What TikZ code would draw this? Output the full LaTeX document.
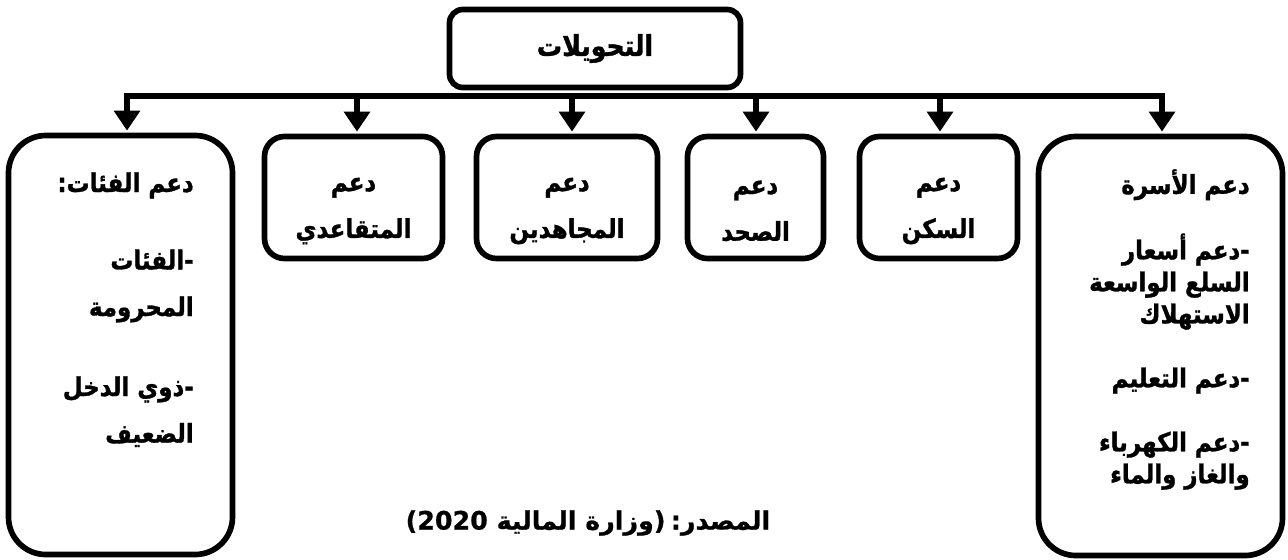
\documentclass[tikz,border=0pt]{standalone}
\usepackage{fontspec}
\newfontfamily\arabicfont[Script=Arabic, FakeStretch=0.88, BoldFeatures={FakeBold=1.2}]{DejaVu Sans}
\newfontfamily\arabicsrc[Script=Arabic, BoldFeatures={FakeBold=0.8}]{DejaVu Sans}
\newfontfamily\latsrc[BoldFeatures={FakeBold=0.8}]{DejaVu Sans}
\TeXXeTstate=1
\usetikzlibrary{arrows.meta}
\newcommand{\myrl}[1]{\beginR#1\endR}
\begin{document}
\begin{tikzpicture}[x=0.75pt,y=-0.75pt,
  box/.style={draw=black, line width=4.25pt, inner sep=0pt},
  sbox/.style={box, rounded corners=15pt},
  lbox/.style={box, rounded corners=28pt},
  txt/.style={inner sep=0pt, font=\arabicfont\bfseries\fontsize{19.5}{35}\selectfont},
  rtxt/.style={inner sep=0pt, font=\arabicfont\bfseries\fontsize{19.5}{24}\selectfont},
  conn/.style={line width=4.25pt, -{Triangle[length=15pt,width=19pt]}, shorten >=1.5pt},
  bar/.style={line width=4.25pt, line join=miter, {Triangle[length=15pt,width=19pt]}-{Triangle[length=15pt,width=19pt]}, shorten >=1.5pt, shorten <=1.5pt},
]
\useasboundingbox[fill=white] (0,0) rectangle (1288,560);

% boxes
\node[box, rounded corners=10pt, minimum width=218.25pt, minimum height=58.5pt, font=\arabicfont\bfseries\fontsize{21.5}{24}\selectfont] (T) at (595,48.5) {\myrl{التحويلات}};
\node[lbox, minimum width=168pt, minimum height=314.25pt] (L) at (120.5,345) {};
\node[sbox, minimum width=133.5pt, minimum height=91.5pt] (B2) at (353.5,197.5) {};
\node[sbox, minimum width=135.75pt, minimum height=91.5pt] (B3) at (567,197.5) {};
\node[sbox, minimum width=102pt, minimum height=91.5pt] (B4) at (755.5,197.5) {};
\node[sbox, minimum width=118.5pt, minimum height=91.5pt] (B5) at (938.5,197.5) {};
\node[lbox, minimum width=183pt, minimum height=314.25pt] (R) at (1160.5,346) {};

% texts
\node[txt, align=center] (t2) at (353.5,211) {\myrl{دعم}\\\myrl{المتقاعدي}};
\node[txt, align=center] (t3) at (567,211) {\myrl{دعم}\\\myrl{المجاهدين}};
\node[txt, align=center] (t4) at (755.5,211) {\myrl{دعم}\\\myrl{الصحد}};
\node[txt, align=center] (t5) at (938.5,211) {\myrl{دعم}\\\myrl{السكن}};
\node[txt, align=right, anchor=north east] (tL) at (194,172) {\myrl{دعم الفئات:}\\[23pt]\myrl{-الفئات}\\\myrl{المحرومة}\\[25pt]\myrl{-ذوي الدخل}\\\myrl{الضعيف}};
\node[rtxt, align=right, anchor=north east] (tR) at (1250,169) {\myrl{دعم الأسرة}\\[24pt]\myrl{-دعم أسعار}\\\myrl{السلع الواسعة}\\\myrl{الاستهلاك}\\[24pt]\myrl{-دعم التعليم}\\[24pt]\myrl{-دعم الكهرباء}\\\myrl{والغاز والماء}};
\node[inner sep=0pt, font=\arabicsrc\bfseries\fontsize{19}{24}\selectfont] (src) at (588,523) {\beginR المصدر{\latsrc\bfseries :}\hspace{4pt}{\latsrc\bfseries )}وزارة المالية {\latsrc\bfseries\beginL(2020\endL}\endR};

% connectors
\coordinate (j1) at (127,96);
\coordinate (j2) at (357,96);
\coordinate (j3) at (572,96);
\coordinate (j4) at (756,96);
\coordinate (j5) at (940,96);
\coordinate (j6) at (1162,96);
\draw[bar] (j1 |- L.north) -- (j1) -- (j6) -- (j6 |- R.north);
\draw[conn] (j2) -- (j2 |- B2.north);
\draw[conn] (j3) -- (j3 |- B3.north);
\draw[conn] (j4) -- (j4 |- B4.north);
\draw[conn] (j5) -- (j5 |- B5.north);
\end{tikzpicture}
\end{document}
